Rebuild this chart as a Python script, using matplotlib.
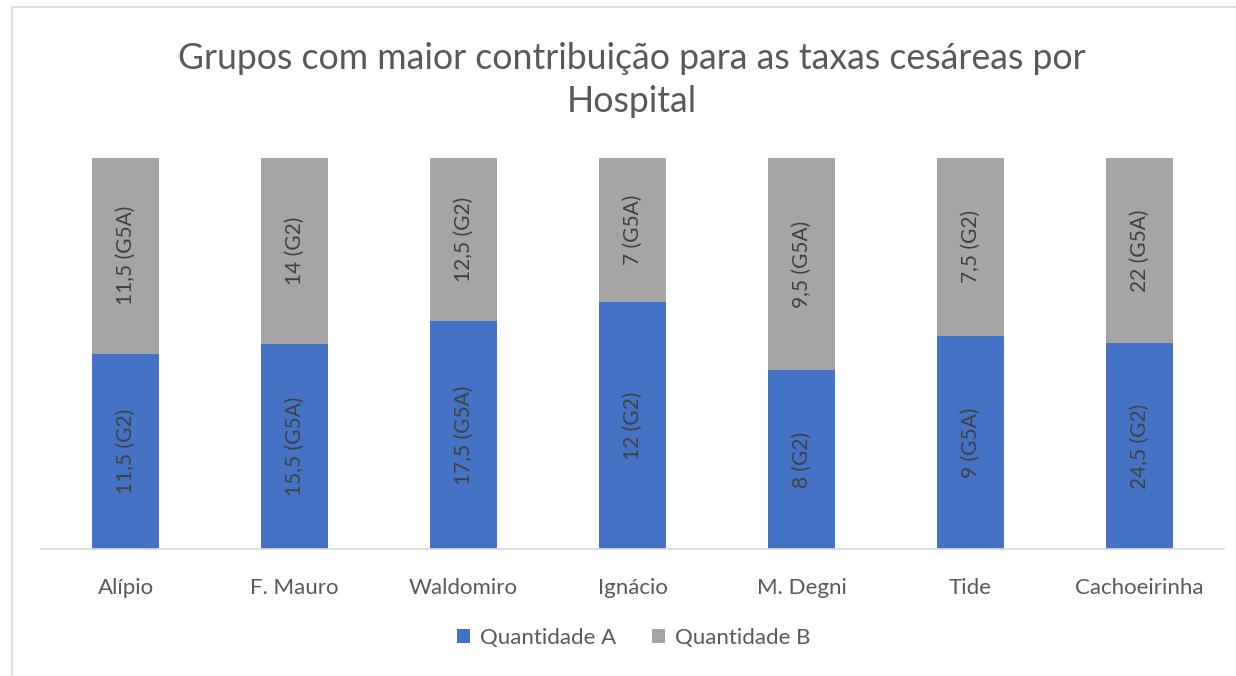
import matplotlib
matplotlib.use("Agg")
import matplotlib.pyplot as plt
from matplotlib.patches import Rectangle, Patch
import numpy as np

hospitals = ["Alípio", "F. Mauro", "Waldomiro", "Ignácio", "M. Degni", "Tide", "Cachoeirinha"]
qtd_a = [11.5, 15.5, 17.5, 12, 8, 9, 24.5]
grp_a = ["G2", "G5A", "G5A", "G2", "G2", "G5A", "G2"]
qtd_b = [11.5, 14, 12.5, 7, 9.5, 7.5, 22]
grp_b = ["G5A", "G2", "G2", "G5A", "G5A", "G2", "G5A"]

BLUE = "#4472C4"
GRAY = "#A5A5A5"
TEXT = "#595959"
LABEL = "#404040"
FONT = ["Lato", "DejaVu Sans"]

plt.rcParams["font.family"] = FONT

fig = plt.figure(figsize=(12.36, 6.76), dpi=100)
fig.patches.append(Rectangle((12 / 1236, -0.01), 1.1, (676 - 7) / 676 + 0.01,
                             transform=fig.transFigure, fill=False,
                             edgecolor="#D9D9D9", linewidth=1.2))

ax = fig.add_axes([41 / 1236, (676 - 549) / 676, 1183 / 1236, 391 / 676])

a = np.array(qtd_a, dtype=float)
b = np.array(qtd_b, dtype=float)
tot = a + b
fa = a / tot
fb = b / tot
x = np.arange(len(hospitals))
w = 0.40

ax.bar(x, fa, w, color=BLUE, label="Quantidade A")
ax.bar(x, fb, w, bottom=fa, color=GRAY, label="Quantidade B")


def fmt(v):
    s = f"{v:g}"
    return s.replace(".", ",")


for i in range(len(x)):
    ax.text(x[i], fa[i] / 2, f"{fmt(a[i])} ({grp_a[i]})", rotation=90,
            ha="center", va="center", fontsize=15, color=LABEL)
    ax.text(x[i], fa[i] + fb[i] / 2, f"{fmt(b[i])} ({grp_b[i]})", rotation=90,
            ha="center", va="center", fontsize=15, color=LABEL)

ax.set_xlim(-0.5, len(x) - 0.5)
ax.set_ylim(0, 1)
ax.set_yticks([])
ax.set_xticks(x)
ax.set_xticklabels(hospitals, fontsize=16, color=TEXT)
ax.tick_params(axis="x", length=0, pad=21)
for s in ["top", "right", "left"]:
    ax.spines[s].set_visible(False)
ax.spines["bottom"].set_color("#D9D9D9")
ax.spines["bottom"].set_linewidth(1.2)

fig.text(632 / 1236, 1 - 80 / 676,
         "Grupos com maior contribuição para as taxas cesáreas por\nHospital",
         ha="center", va="center", fontsize=25.7, color=TEXT, linespacing=1.35)

handles = [Patch(facecolor=BLUE), Patch(facecolor=GRAY)]
fig.legend(handles, ["Quantidade A", "Quantidade B"], loc="center",
           bbox_to_anchor=(634 / 1236, 1 - 638 / 676), ncol=2, frameon=False,
           fontsize=16, labelcolor=TEXT, handlelength=0.6, handleheight=0.6,
           handletextpad=0.45, columnspacing=1.6)

fig.savefig("out.png", dpi=100)
